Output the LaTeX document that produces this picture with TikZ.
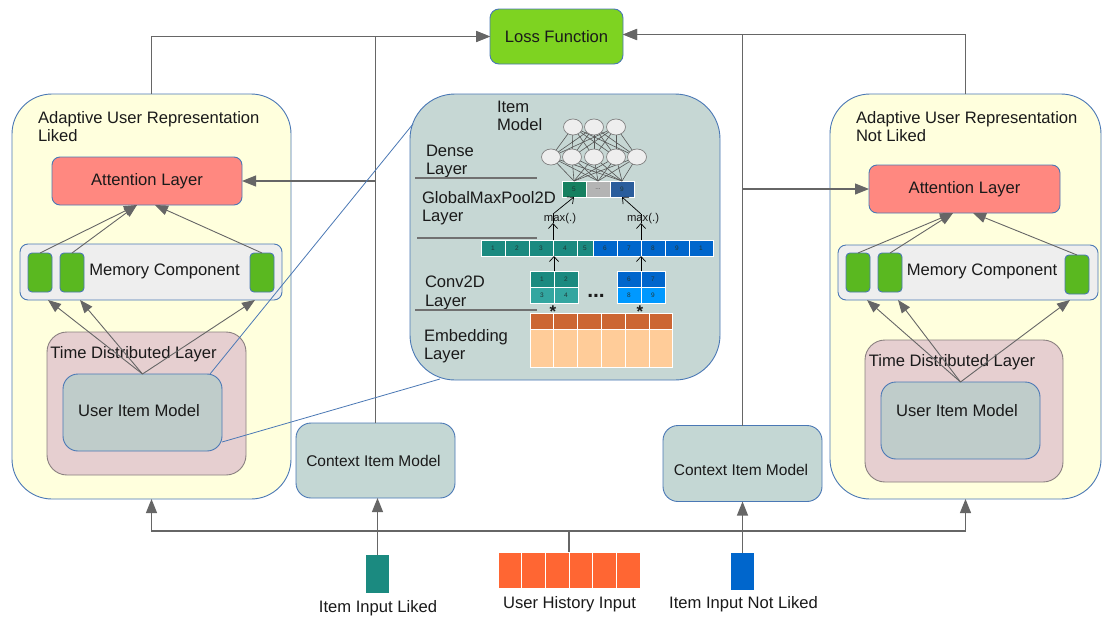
\documentclass[tikz,border=0pt]{standalone}
\usepackage{fontspec}
\setmainfont{Liberation Sans}
\usetikzlibrary{arrows.meta,calc,shapes.geometric}

\definecolor{bord}{HTML}{4A78B5}
\definecolor{yel}{HTML}{FFFFDD}
\definecolor{salm}{HTML}{FF8880}
\definecolor{memf}{HTML}{EEEEEE}
\definecolor{grn}{HTML}{5AB820}
\definecolor{tdf}{HTML}{E6CFD0}
\definecolor{tdb}{HTML}{8A8080}
\definecolor{uimf}{HTML}{BFCCCA}
\definecolor{itemf}{HTML}{C6D7D4}
\definecolor{ctxf}{HTML}{C4D7D4}
\definecolor{lossg}{HTML}{7ED321}
\definecolor{lineg}{HTML}{666666}
\definecolor{txt}{HTML}{1A1A1A}
\definecolor{sepg}{HTML}{707070}
\definecolor{teal1}{HTML}{1B8A80}
\definecolor{teal2}{HTML}{33A6A0}
\definecolor{blue1}{HTML}{0066CC}
\definecolor{blue2}{HTML}{0099FF}
\definecolor{poolg}{HTML}{168060}
\definecolor{poolgr}{HTML}{B4B4B4}
\definecolor{poolb}{HTML}{2A5D9C}
\definecolor{celltxt}{HTML}{203838}
\definecolor{neurf}{HTML}{EEEEEE}
\definecolor{neurb}{HTML}{808080}
\definecolor{netg}{HTML}{555555}
\definecolor{embt}{HTML}{CC6633}
\definecolor{embb}{HTML}{FFCC99}
\definecolor{histor}{HTML}{FF6633}

\begin{document}
\begin{tikzpicture}[x=1pt,y=-1pt,
  every node/.style={inner sep=0pt, outer sep=0pt, text=txt},
  box/.style={draw=bord, line width=0.9pt},
  fnt/.style={font=\fontsize{16.6}{18.5}\selectfont},
  ctxfnt/.style={font=\fontsize{15.5}{18}\selectfont},
  ln/.style={draw=lineg, line width=1.1pt},
  arr/.style={ln, -{Triangle[length=14pt,width=11pt]}},
  thinarr/.style={draw=lineg, line width=0.9pt, -{Triangle[length=13pt,width=10pt]}},
  opa/.style={draw=black, line width=0.7pt, -{Straight Barb[length=5pt,width=9pt]}},
  opl/.style={draw=black, line width=0.7pt},
  sep/.style={draw=sepg, line width=1.3pt},
  bline/.style={draw=bord, line width=0.8pt},
  cellc/.style={draw=white, line width=0.6pt, minimum width=24pt, minimum height=16pt,
                font=\fontsize{6.5}{7}\selectfont, text=celltxt},
  neuron/.style={ellipse, draw=neurb, fill=neurf, line width=0.7pt,
                 minimum width=19pt, minimum height=16pt},
  netl/.style={draw=netg, line width=0.6pt},
  grnb/.style={box, fill=grn, rounded corners=4pt, minimum width=24pt, minimum height=39pt},
]
\useasboundingbox (0,0) rectangle (1103,619);
\fill[white] (0,0) rectangle (1103,619);

% ---------- large containers ----------
\node[box, fill=yel, rounded corners=40pt, minimum width=279pt, minimum height=405pt] (aurL) at (151.5,296.5) {};
\node[box, fill=yel, rounded corners=40pt, minimum width=271pt, minimum height=405pt] (aurR) at (965.5,296.5) {};
\node[box, fill=itemf, rounded corners=45pt, minimum width=310pt, minimum height=286pt] (itm) at (565,237) {};
\node[box, fill=lossg, rounded corners=9pt, minimum width=133pt, minimum height=55pt, fnt] (loss) at (556.5,36.5) {Loss Function};

\node[fnt, align=left, anchor=north west] (ttlL) at (38,111) {Adaptive User Representation\\Liked};
\node[fnt, align=left, anchor=north west] (ttlR) at (856,111) {Adaptive User Representation\\Not Liked};

% ---------- attention layers ----------
\node[box, fill=salm, rounded corners=8pt, minimum width=190pt, minimum height=48pt, fnt] (attL) at (147,181) {Attention Layer};
\node[box, fill=salm, rounded corners=8pt, minimum width=191pt, minimum height=48pt, fnt] (attR) at (964.5,189) {Attention Layer};

% ---------- memory components ----------
\node[box, fill=memf, rounded corners=8pt, minimum width=262pt, minimum height=56pt] (memL) at (151,272) {};
\node[fnt] (memLt) at (164.5,271) {Memory Component};
\node[grnb] (gL1) at (40,272.5) {};
\node[grnb] (gL2) at (72,272.5) {};
\node[grnb] (gL3) at (262,272.5) {};

\node[box, fill=memf, rounded corners=8pt, minimum width=260pt, minimum height=55pt] (memR) at (968,272.5) {};
\node[fnt] (memRt) at (982,271) {Memory Component};
\node[grnb] (gR1) at (858,272.5) {};
\node[grnb] (gR2) at (890,272.5) {};
\node[grnb] (gR3) at (1077,274.5) {};

% ---------- time distributed layers ----------
\node[draw=tdb, line width=0.9pt, fill=tdf, rounded corners=20pt, minimum width=199pt, minimum height=143pt] (tdL) at (146.5,403.5) {};
\node[fnt] (tdLt) at (133.5,354) {Time Distributed Layer};
\node[box, fill=uimf, rounded corners=15pt, minimum width=159pt, minimum height=77pt] (uimL) at (142.5,412.5) {};
\node[fnt] (uimLt) at (139,411) {User Item Model};

\node[draw=tdb, line width=0.9pt, fill=tdf, rounded corners=20pt, minimum width=198pt, minimum height=142pt] (tdR) at (964,411) {};
\node[fnt] (tdRt) at (952,362) {Time Distributed Layer};
\node[box, fill=uimf, rounded corners=15pt, minimum width=159pt, minimum height=77pt] (uimR) at (960.5,420.5) {};
\node[fnt] (uimRt) at (957,411) {User Item Model};

% ---------- context item models ----------
\node[box, fill=ctxf, rounded corners=15pt, minimum width=159pt, minimum height=75pt] (ctxL) at (375.5,460.5) {};
\node[ctxfnt] (ctxLt) at (373.5,461) {Context Item Model};
\node[box, fill=ctxf, rounded corners=15pt, minimum width=159pt, minimum height=76pt] (ctxR) at (742.5,463.5) {};
\node[ctxfnt] (ctxRt) at (741,470) {Context Item Model};

% ---------- inputs ----------
\node[minimum width=23pt, minimum height=38pt, fill=teal1] (inL) at (377.5,574) {};
\node[minimum width=23pt, minimum height=37pt, fill=blue1] (inN) at (742.5,571.5) {};
\foreach \k in {1,...,6}
  \node[fill=histor, draw=white, line width=0.8pt, minimum width=23.67pt, minimum height=36pt] (h\k) at ({498+23.67*(\k-0.5)},570) {};
\node[fnt] (lblL) at (378,608) {Item Input Liked};
\node[fnt] (lblH) at (569.5,604) {User History Input};
\node[fnt] (lblN) at (743.5,604) {Item Input Not Liked};

% ---------- item model internals ----------
\node[fnt, align=left, anchor=north west] (imt) at (497,101) {Item\\Model};
\node[fnt, align=left, anchor=north west] (dlt) at (426,145) {Dense\\Layer};
\draw[sep] (415,178) -- (537,178);
\node[fnt, align=left, anchor=north west] (gmt) at (422,191) {GlobalMaxPool2D\\Layer};
\draw[sep] (417,238) -- (537,238);
\node[fnt, align=left, anchor=north west] (cvt) at (425,276) {Conv2D\\Layer};
\draw[sep] (415,310) -- (537,310);
\node[fnt, align=left, anchor=north west] (emt) at (424,329) {Embedding\\Layer};

% dense network
\foreach \x [count=\i] in {573,594,616} \coordinate (ct\i) at (\x,127);
\foreach \x [count=\j] in {551,572,594,616,637} \coordinate (cb\j) at (\x,157);
\node[cellc, fill=poolg] (p1) at (574,189) {5};
\node[cellc, fill=poolgr, text=gray!60!black] (p2) at (598,189) {...};
\node[cellc, fill=poolb] (p3) at (622,189) {9};
\foreach \i in {1,2,3} \foreach \j in {1,...,5} \draw[netl] (ct\i) -- (cb\j);
\foreach \j in {1,...,5} \foreach \k in {1,2,3} \draw[netl] (cb\j) -- (p\k.north);
\foreach \i in {1,2,3} \node[neuron] (nt\i) at (ct\i) {};
\foreach \j in {1,...,5} \node[neuron] (nb\j) at (cb\j) {};

% feature vector
\foreach \x/\w/\c/\t [count=\k] in {493/24/teal1/1, 517/24/teal1/2, 541/24/teal1/3, 565/24/teal1/4,
    585/16/teal1/5, 605/24/blue1/6, 629/24/blue1/7, 653/24/blue1/8, 677/24/blue1/9, 701/24/blue1/1}
  \node[cellc, minimum width=\w pt, fill=\c] (v\k) at (\x,248) {\t};

% convolution filters
\node[cellc, fill=teal1] (cL1) at (542,279) {1};
\node[cellc, fill=teal1] (cL2) at (566,279) {2};
\node[cellc, fill=teal2] (cL3) at (542,295) {3};
\node[cellc, fill=teal2] (cL4) at (566,295) {4};
\node[cellc, fill=blue1] (cR1) at (629,279) {6};
\node[cellc, fill=blue1] (cR2) at (653,279) {7};
\node[cellc, fill=blue2] (cR3) at (629,295) {8};
\node[cellc, fill=blue2] (cR4) at (653,295) {9};
\node[font=\fontsize{21}{21}\selectfont\bfseries, anchor=base] (dots) at (596,297) {...};
\node[font=\fontsize{17}{17}\selectfont\bfseries, anchor=base] (stL) at (553,317) {*};
\node[font=\fontsize{17}{17}\selectfont\bfseries, anchor=base] (stR) at (640,317) {*};

% embedding matrix
\foreach \k in {1,...,6} {
  \node[draw=white, line width=1pt, fill=embt, minimum width=23.83pt, minimum height=16pt] (eT\k) at ({530+23.83*(\k-0.5)},321) {};
  \node[draw=white, line width=1pt, fill=embb, minimum width=23.83pt, minimum height=38pt] (eB\k) at ({530+23.83*(\k-0.5)},348) {};
}

% pooling arrows
\draw[opa] (cL1.north east) -- (cL1.north east |- v4.south);
\draw[opa] (v4.north west) -- ++(0,-17) coordinate (mxLb);
\draw[opl] (mxLb) -- ++(0,-9) coordinate (mxL);
\draw[opa] (mxL) -- (p1.south);
\draw[opa] (cR1.north east) -- (cR1.north east |- v7.south);
\draw[opa] (v7.north east) -- ++(0,-17) coordinate (mxRb);
\draw[opl] (mxRb) -- ++(0,-9) coordinate (mxR);
\draw[opa] (mxR) -- (p3.south);
\node[font=\fontsize{11.3}{12}\selectfont] (mxLt) at (560,219) {max(.)};
\node[font=\fontsize{11.3}{12}\selectfont] (mxRt) at (643,219) {max(.)};

% ---------- connectors ----------
\coordinate (busy) at (0,531);
\draw[ln] (h3.north east) -- (h3.north east |- busy);
\draw[arr] (h3.north east |- busy) -| (aurL.south);
\draw[arr] (h3.north east |- busy) -| (aurR.south);
\draw[arr] (inL.north) -- (inL.north |- ctxL.south);
\draw[arr] (inN.north) -- (inN.north |- ctxR.south);

\coordinate (lossE) at ($(loss.east)+(0,-2)$);
\draw[arr] (aurL.north) |- (loss.west);
\draw[arr] (ctxL.north) |- (loss.west);
\draw[arr] (aurR.north) |- (lossE);
\draw[arr] (ctxR.north) |- (lossE);
\draw[arr] (ctxL.north |- attL.east) -- (attL.east);
\draw[arr] (ctxR.north |- attR.west) -- (attR.west);

% inside the left user representation
\draw[thinarr] (uimL.north) -- ($(memL.south west)+(28,0)$);
\draw[thinarr] (uimL.north) -- ($(memL.south west)+(60,0)$);
\draw[thinarr] (uimL.north) -- ($(memL.south west)+(235,0)$);
\draw[thinarr] (gL1.north) -- ($(attL.south)+(-10,0)$);
\draw[thinarr] (gL2.north) -- ($(attL.south)+(-10,0)$);
\draw[thinarr] (gL3.north) -- ($(attL.south)+(8,0)$);

% inside the right user representation
\draw[thinarr] (uimR.north) -- ($(memR.south west)+(29,0)$);
\draw[thinarr] (uimR.north) -- ($(memR.south west)+(60,0)$);
\draw[thinarr] (uimR.north) -- ($(memR.south west)+(232,0)$);
\draw[thinarr] (gR1.north) -- ($(attR.south)+(-11.5,0)$);
\draw[thinarr] (gR2.north) -- ($(attR.south)+(-11.5,0)$);
\draw[thinarr] (gR3.north) -- ($(attR.south)+(8.5,0)$);

% zoom-out lines linking the user item model to its detailed view
\draw[bline] ($(uimL.north east)+(-12,0)$) -- ($(itm.north west)+(3,30)$);
\draw[bline] ($(uimL.south east)+(0,-9)$) -- ($(itm.south west)+(30,-1)$);
\end{tikzpicture}
\end{document}
